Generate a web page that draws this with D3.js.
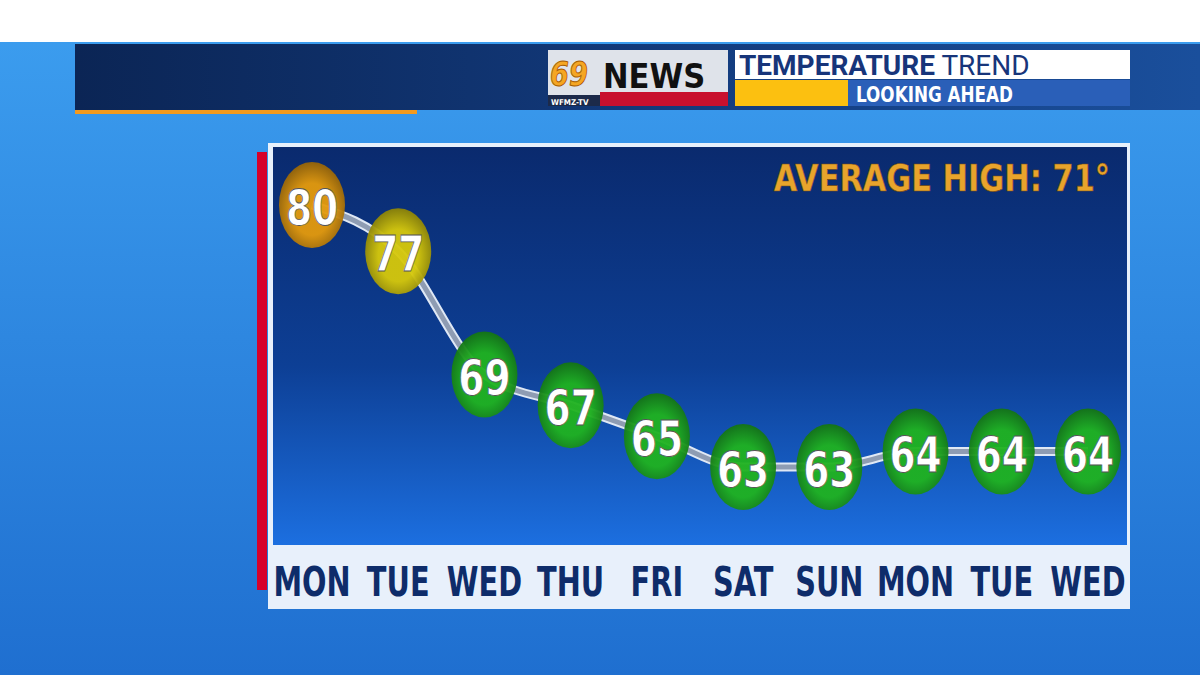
<!DOCTYPE html>
<html><head><meta charset="utf-8">
<script src="https://cdn.jsdelivr.net/npm/d3@7"></script>
<style>body{margin:0;overflow:hidden}</style>
</head><body><div id="viz"></div>
<script>
const days = ["MON","TUE","WED","THU","FRI","SAT","SUN","MON","TUE","WED"];
const highs = [80,77,69,67,65,63,63,64,64,64];
const averageHigh = 71;

const W = 1200, H = 675;
const svg = d3.select("#viz").append("svg").attr("width", W).attr("height", H);
const defs = svg.append("defs");
const FONT = "DejaVu Sans";

// condensed text: horizontal squeeze via transform
function cText(parent, x, y, str, size, sx, anchor) {
  return parent.append("text")
    .attr("transform", `translate(${x},${y}) scale(${sx},1)`)
    .attr("text-anchor", anchor || "start")
    .attr("font-family", FONT).attr("font-weight", "bold").attr("font-size", size)
    .text(str);
}

const bg = defs.append("linearGradient").attr("id","bg").attr("x1",0).attr("y1",0).attr("x2",0).attr("y2",1);
bg.append("stop").attr("offset",0).attr("stop-color","#3d9ff0");
bg.append("stop").attr("offset",1).attr("stop-color","#1f6fd0");
svg.append("rect").attr("width",W).attr("height",H).attr("fill","url(#bg)");
svg.append("rect").attr("width",W).attr("height",42).attr("fill","#ffffff");

const hdr = defs.append("linearGradient").attr("id","hdr");
hdr.append("stop").attr("offset",0).attr("stop-color","#0b2555");
hdr.append("stop").attr("offset",0.5).attr("stop-color","#12397a");
hdr.append("stop").attr("offset",1).attr("stop-color","#1a4f9c");
svg.append("rect").attr("x",75).attr("y",44).attr("width",W-75).attr("height",66).attr("fill","url(#hdr)");
svg.append("rect").attr("x",75).attr("y",110).attr("width",342).attr("height",4).attr("fill","#f39a1e");

// logo
svg.append("rect").attr("x",548).attr("y",50).attr("width",180).attr("height",56).attr("fill","#dfe3ea");
svg.append("rect").attr("x",600).attr("y",92).attr("width",128).attr("height",14).attr("fill","#c8102e");
svg.append("rect").attr("x",548).attr("y",95).attr("width",52).attr("height",11).attr("fill","#1c2a4a");
cText(svg, 550, 86, "69", 34, 0.8).attr("font-style","italic").attr("fill","#f5a623").attr("stroke","#a85c00");
cText(svg, 603, 88, "NEWS", 34, 0.9).attr("fill","#111");
cText(svg, 551, 105, "WFMZ-TV", 8, 0.9).attr("fill","#fff");

// title box
svg.append("rect").attr("x",735).attr("y",50).attr("width",395).attr("height",29).attr("fill","#ffffff");
svg.append("rect").attr("x",735).attr("y",80).attr("width",395).attr("height",26).attr("fill","#2a5fb8");
svg.append("rect").attr("x",735).attr("y",80).attr("width",113).attr("height",26).attr("fill","#fcc010");
const t = svg.append("text").attr("x",739).attr("y",75).attr("font-family","Roboto").attr("font-size",28).attr("fill","#17357a");
t.append("tspan").text("TEMPERATURE").attr("font-weight","bold");
t.append("tspan").text(" TREND");
cText(svg, 856, 102, "LOOKING AHEAD", 21, 0.8).attr("fill","#fff");

// panel
svg.append("rect").attr("x",257).attr("y",152).attr("width",10).attr("height",438).attr("fill","#d6002a");
svg.append("rect").attr("x",268).attr("y",143).attr("width",862).attr("height",466).attr("fill","#e8f0fb");
const pn = defs.append("linearGradient").attr("id","pn").attr("x1",0).attr("y1",0).attr("x2",0).attr("y2",1);
pn.append("stop").attr("offset",0).attr("stop-color","#0a2a6e");
pn.append("stop").attr("offset",0.55).attr("stop-color","#0d3f95");
pn.append("stop").attr("offset",1).attr("stop-color","#1c6fe0");
svg.append("rect").attr("x",273).attr("y",147).attr("width",854).attr("height",398).attr("fill","url(#pn)");

cText(svg, 1110, 191, `AVERAGE HIGH: ${averageHigh}°`, 38, 0.8, "end")
  .attr("fill","#e8a42c").attr("stroke","#7a4e10").attr("stroke-width",0.6);

const x = d3.scalePoint().domain(d3.range(days.length)).range([312,1088]);
const y = d3.scaleLinear().domain([63,80]).range([467,205]);

const line = d3.line().x((d,i)=>x(i)).y(d=>y(d)).curve(d3.curveMonotoneX);
svg.append("path").attr("d",line(highs)).attr("fill","none").attr("stroke","#dfe8f5").attr("stroke-width",9);
svg.append("path").attr("d",line(highs)).attr("fill","none").attr("stroke","#8e9cb3").attr("stroke-width",5);

const col = d => d >= 80 ? "#e49a0c" : d >= 75 ? "#d6c80a" : "#1fb21f";
highs.forEach((d,i)=>{
  const g = defs.append("radialGradient").attr("id","b"+i).attr("cx","50%").attr("cy","55%").attr("r","55%");
  g.append("stop").attr("offset",0.55).attr("stop-color",col(d));
  g.append("stop").attr("offset",1).attr("stop-color",d3.color(col(d)).darker(1.2));
});
const pts = svg.append("g").selectAll("g").data(highs).join("g")
  .attr("transform",(d,i)=>`translate(${x(i)},${y(d)})`);
pts.append("ellipse").attr("rx",33).attr("ry",43).attr("fill",(d,i)=>`url(#b${i})`).attr("opacity",0.95);
pts.each(function(d){
  cText(d3.select(this), 0, 20, d, 50, 0.75, "middle")
    .attr("fill","#ffffff").attr("stroke","#555").attr("stroke-width",0.8);
});

const dayG = svg.append("g");
days.forEach((d,i)=>{
  cText(dayG, x(i), 596, d, 40, 0.72, "middle").attr("fill","#0e2c6a");
});
</script></body></html>
